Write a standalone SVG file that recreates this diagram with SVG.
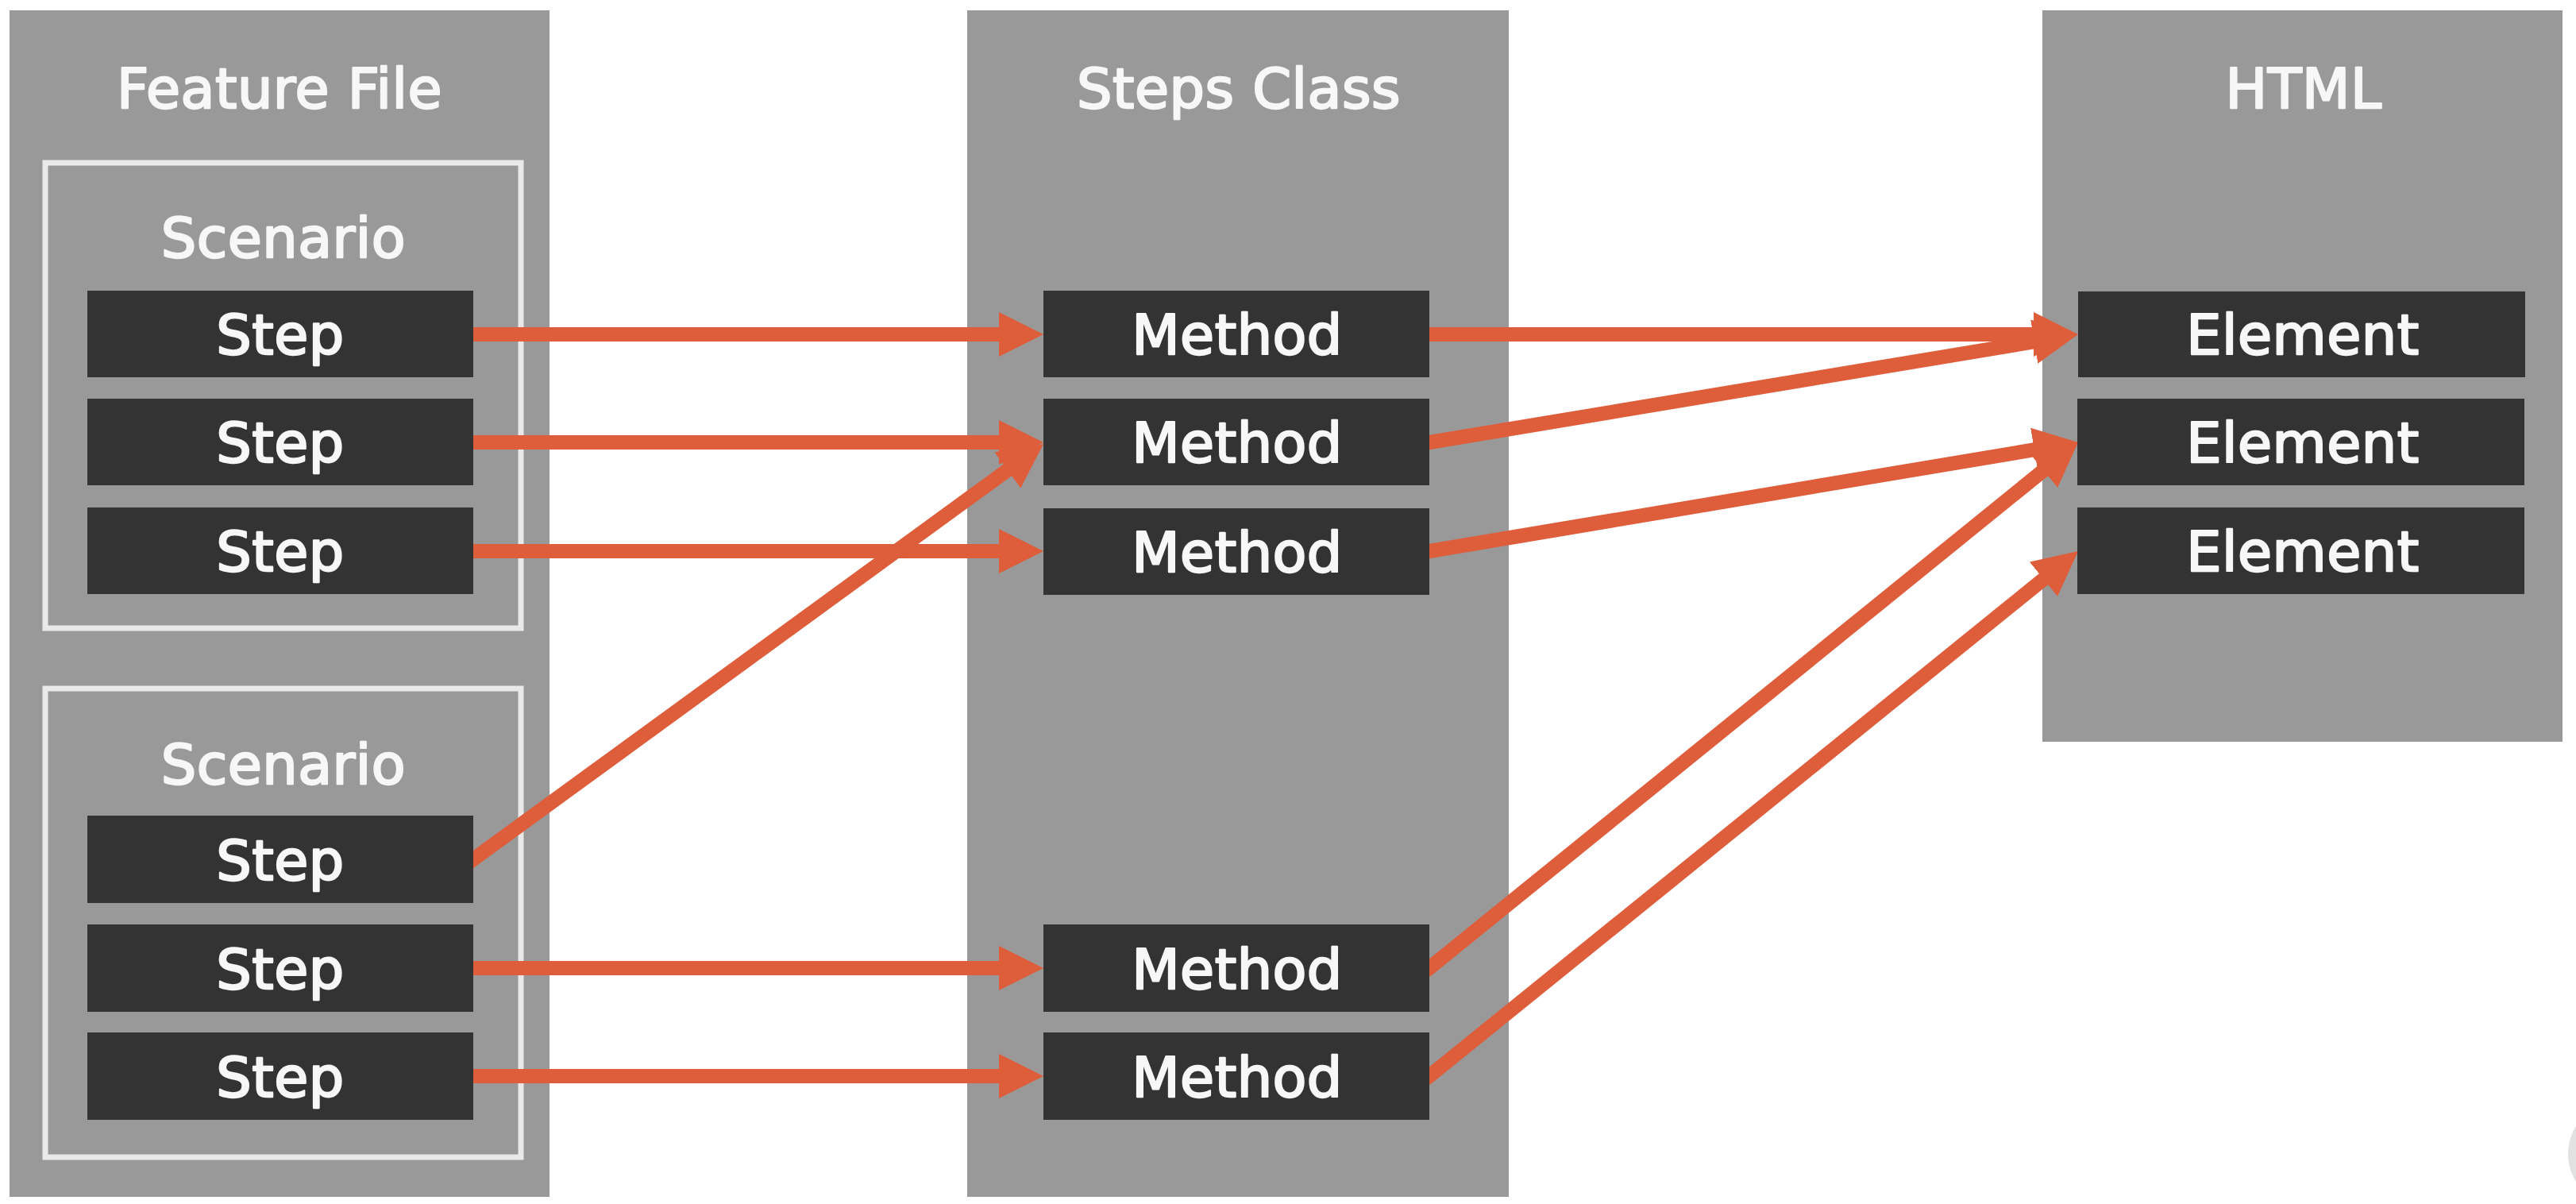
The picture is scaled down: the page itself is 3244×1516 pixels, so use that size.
<svg xmlns="http://www.w3.org/2000/svg" width="3244" height="1516" viewBox="0 0 3244 1516">
<style>
.panel{fill:#999999}
.scen{fill:none;stroke:#e9e9e9;stroke-width:7}
.box{fill:#333333}
.t{font-family:"DejaVu Sans","Liberation Sans",sans-serif;font-size:70px;fill:#f7f7f7;stroke:#f7f7f7;stroke-width:2.4;stroke-linejoin:round;text-anchor:middle;letter-spacing:0.5px}
.c{fill:none;stroke:#de5d3a;stroke-width:18;marker-end:url(#ah)}
</style>
<defs>
<marker id="ah" markerUnits="userSpaceOnUse" markerWidth="56" markerHeight="56" viewBox="0 0 56 56" refX="16" refY="28" orient="auto">
<path d="M0,0 L56,28 L0,56 z" fill="#de5d3a"/>
</marker>
</defs>
<rect width="3244" height="1516" fill="#ffffff"/>
<circle cx="3300" cy="1453" r="66" fill="#e2e2e2"/>

<g id="feature-file">
<rect class="panel" x="12" y="13" width="680" height="1494"/>
<text class="t" x="352" y="136">Feature File</text>
</g>
<g id="scenario-1">
<rect class="scen" x="57" y="205" width="599" height="586"/>
<text class="t" x="357" y="324">Scenario</text>
</g>
<g id="scenario-2">
<rect class="scen" x="57" y="867" width="599" height="590"/>
<text class="t" x="357" y="987">Scenario</text>
</g>
<g id="steps-class">
<rect class="panel" x="1218" y="13" width="682" height="1494"/>
<text class="t" x="1560" y="136">Steps Class</text>
</g>
<g id="html">
<rect class="panel" x="2572" y="13" width="655" height="921"/>
<text class="t" x="2901" y="136">HTML</text>
</g>

<g id="connectors">
<path class="c" d="M590,421 H1274"/>
<path class="c" d="M590,557 H1274"/>
<path class="c" d="M590,694 H1274"/>
<path class="c" d="M589.5,1086.7 L1281.7,582.6"/>
<path class="c" d="M590,1219 H1274"/>
<path class="c" d="M590,1355 H1274"/>
<path class="c" d="M1794,421 H2577"/>
<path class="c" d="M1794,558 L2577.5,427.6"/>
<path class="c" d="M1794,695 L2577.5,563.6"/>
<path class="c" d="M1795.3,1222.8 L2585.9,582.2"/>
<path class="c" d="M1795.3,1358.8 L2585.9,719.2"/>
</g>

<g id="step-1"><rect class="box" x="110" y="366" width="486" height="109"/><text class="t" x="353" y="446">Step</text></g>
<g id="step-2"><rect class="box" x="110" y="502" width="486" height="109"/><text class="t" x="353" y="582">Step</text></g>
<g id="step-3"><rect class="box" x="110" y="639" width="486" height="109"/><text class="t" x="353" y="719">Step</text></g>
<g id="step-4"><rect class="box" x="110" y="1027" width="486" height="110"/><text class="t" x="353" y="1108">Step</text></g>
<g id="step-5"><rect class="box" x="110" y="1164" width="486" height="110"/><text class="t" x="353" y="1245">Step</text></g>
<g id="step-6"><rect class="box" x="110" y="1300" width="486" height="110"/><text class="t" x="353" y="1381">Step</text></g>

<g id="method-1"><rect class="box" x="1314" y="366" width="486" height="109"/><text class="t" x="1558" y="446">Method</text></g>
<g id="method-2"><rect class="box" x="1314" y="502" width="486" height="109"/><text class="t" x="1558" y="582">Method</text></g>
<g id="method-3"><rect class="box" x="1314" y="640" width="486" height="109"/><text class="t" x="1558" y="720">Method</text></g>
<g id="method-4"><rect class="box" x="1314" y="1164" width="486" height="110"/><text class="t" x="1558" y="1245">Method</text></g>
<g id="method-5"><rect class="box" x="1314" y="1300" width="486" height="110"/><text class="t" x="1558" y="1381">Method</text></g>

<g id="element-1"><rect class="box" x="2617" y="367" width="563" height="108"/><text class="t" x="2900" y="446">Element</text></g>
<g id="element-2"><rect class="box" x="2616" y="502" width="563" height="109"/><text class="t" x="2900" y="582">Element</text></g>
<g id="element-3"><rect class="box" x="2616" y="639" width="563" height="109"/><text class="t" x="2900" y="719">Element</text></g>
</svg>
